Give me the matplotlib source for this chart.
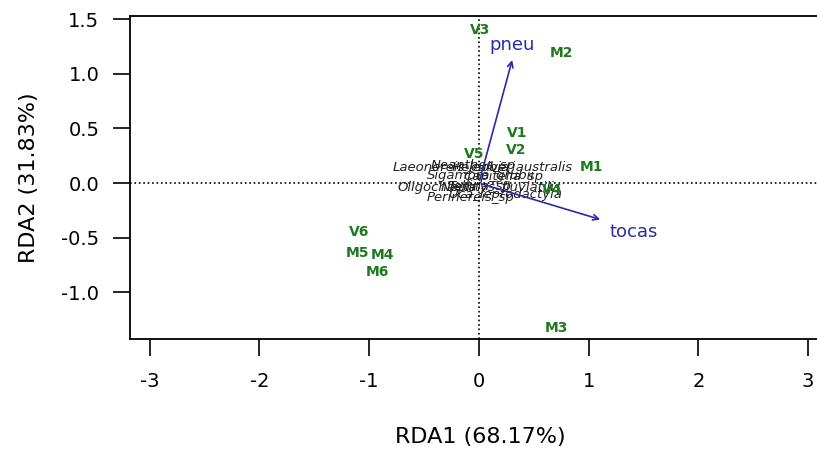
import matplotlib.pyplot as plt

plt.rcParams['font.family'] = ['DejaVu Sans']

# site scores (RDA1, RDA2)
sites = ['V3', 'M2', 'V1', 'V2', 'V5', 'M1', 'V4', 'V6', 'M5', 'M4', 'M6', 'M3']
site_x = [0.01, 0.75, 0.35, 0.34, -0.04, 1.03, 0.67, -1.09, -1.11, -0.88, -0.92, 0.71]
site_y = [1.40, 1.19, 0.46, 0.30, 0.27, 0.15, -0.06, -0.45, -0.64, -0.66, -0.81, -1.33]

# species scores
species = ['Laeonereis_culveri', 'Heleobia_australis', 'Neanthes_sp', 'Capitella_sp',
           'Sigambra_grubii', 'Oligochaeta', 'Nephtys_fluviatilis', 'Tellina_sp',
           'Perinereis_sp', 'Uca_leptodactyla']
sp_x = [-0.22, 0.30, -0.05, 0.22, 0.02, -0.38, 0.20, 0.00, -0.08, 0.24]
sp_y = [0.15, 0.15, 0.16, 0.06, 0.07, -0.04, -0.04, -0.03, -0.13, -0.10]

# environmental vectors
env = ['pneu', 'tocas']
env_x = [0.31, 1.13]
env_y = [1.15, -0.34]
env_lab_x = [0.30, 1.41]
env_lab_y = [1.26, -0.45]

fig = plt.figure(figsize=(8.17, 4.65), dpi=100)
ax = fig.add_axes([0.159, 0.271, 0.857, 0.695])
ax.set_xlim(-3.18, 3.2)
ax.set_ylim(-1.426, 1.53)

ax.axhline(0, color='black', ls=':', lw=1.2)
ax.axvline(0, color='black', ls=':', lw=1.2)

for name, x, y in zip(species, sp_x, sp_y):
    ax.text(x, y, name, fontsize=9.5, style='italic', color='#222222',
            ha='center', va='center')

arrow_col = '#2a2aa8'
for name, x, y, lx, ly in zip(env, env_x, env_y, env_lab_x, env_lab_y):
    ax.annotate('', xy=(x, y), xytext=(0, 0),
                arrowprops=dict(arrowstyle='->', color=arrow_col, lw=1.2))
    ax.text(lx, ly, name, fontsize=13, color=arrow_col, ha='center', va='center')

for name, x, y in zip(sites, site_x, site_y):
    ax.text(x, y, name, fontsize=10, fontweight='bold', color='#1f7a1f',
            ha='center', va='center')

ax.set_xticks([-3, -2, -1, 0, 1, 2, 3])
ax.set_xticklabels(['-3', '-2', '-1', '0', '1', '2', '3'])
ax.set_yticks([-1.0, -0.5, 0.0, 0.5, 1.0, 1.5])
ax.set_yticklabels(['-1.0', '-0.5', '0.0', '0.5', '1.0', '1.5'])
ax.tick_params(axis='both', direction='out', length=12, width=1.2, labelsize=14,
               colors='black')
ax.tick_params(axis='x', pad=12)
ax.tick_params(axis='y', pad=10)
for s in ax.spines.values():
    s.set_linewidth(1.3)

ax.set_xlabel('RDA1 (68.17%)', fontsize=16, labelpad=26)
ax.set_ylabel('RDA2 (31.83%)', fontsize=16, labelpad=16)

fig.savefig('out.png', dpi=100)
